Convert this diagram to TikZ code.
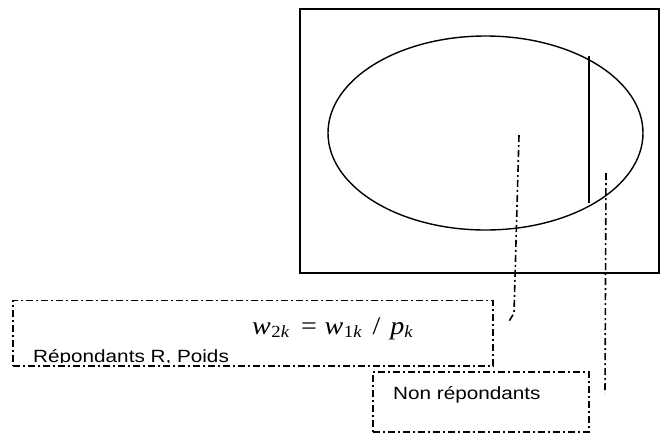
\documentclass[tikz,border=0pt]{standalone}
\usepackage{fontspec}
\newfontfamily\ars{Liberation Sans}
\newfontfamily\tms{Liberation Serif}
\newcommand{\sbs}[2]{\raisebox{-3.5pt}{\fontsize{17}{19}\selectfont\upshape #1\itshape #2}}
\begin{document}
\begin{tikzpicture}[x=1pt,y=-1pt,
  frame/.style={draw=black,line width=1.4pt},
  dd/.style={draw=black,line width=1.6pt,dash pattern=on 7pt off 3pt on 2pt off 3pt},
  lbl/.style={inner sep=0pt,anchor=base west,font=\ars\fontsize{17.7}{20}\selectfont}]
\useasboundingbox (0,0) rectangle (661,432);
\draw[frame] (300,9) rectangle (659,273);
\draw[frame] (485.5,133) ellipse [x radius=157.5, y radius=97];
\draw[line width=1.4pt] (589,56) -- (589,203);
% boxes
\node[dd,draw,minimum width=480pt,minimum height=65.5pt,inner sep=0pt,anchor=north west] (b1) at (12,299.5) {};
\node[dd,draw,minimum width=216pt,minimum height=60pt,inner sep=0pt,anchor=north west] (b2) at (372,371) {};
% texts
\begin{scope}
\clip (12,299.5) rectangle (492,362.5);
\node[lbl] (t1) at (33,362.5) {\scalebox{1.17}[1]{Répondants R, Poids}};
\end{scope}
\node[inner sep=0pt,anchor=base west] (f1) at (252,334) {\scalebox{1.1}[1]{\tms\fontsize{25.5}{28}\selectfont\itshape w\kern0.5pt\sbs{2}{k}\hspace{11pt}\upshape =\hspace{7pt}\itshape w\kern0.5pt\sbs{1}{k}\hspace{10pt}\upshape /\hspace{9pt}\itshape p\sbs{}{k}}};
\node[lbl] (t2) at (393,399) {\scalebox{1.17}[1]{Non répondants}};
% connectors
\coordinate (c1) at (519,135);
\coordinate (c1b) at (514,313);
\coordinate (c1e) at (508,323);
\coordinate (c2) at (606,173);
\coordinate (c2e) at (605,393);
\draw[dd] (c1) -- (c1b) -- (c1e);
\draw[dd] (c2) -- (c2e);
\end{tikzpicture}
\end{document}
